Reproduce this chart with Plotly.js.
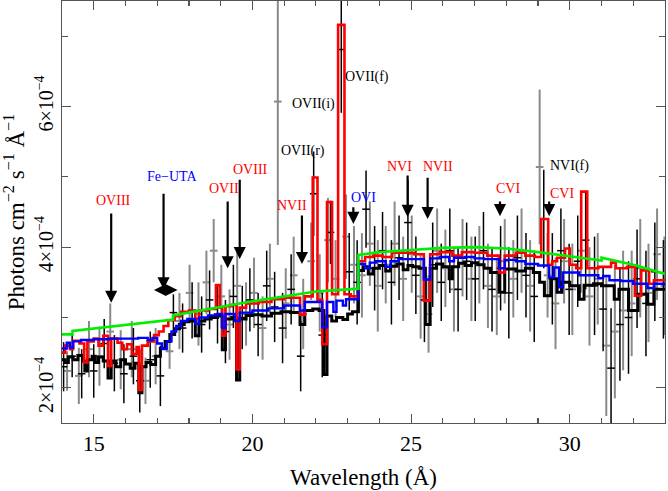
<!DOCTYPE html>
<html>
<head>
<meta charset="utf-8">
<script src="https://cdn.plot.ly/plotly-3.0.1.min.js"></script>
<style>html,body{margin:0;padding:0;background:#fff;}#chart{width:668px;height:491px;}</style>
</head>
<body>
<div id="chart"></div>
<script>
// ---- data (flux in units of 1e-4 photons cm^-2 s^-1 A^-1) ----
const xTickVals = [15, 20, 25, 30];
const yTickVals = [2, 4, 6];
const yTickText = ['2×10<sup>−4</sup>', '4×10<sup>−4</sup>', '6×10<sup>−4</sup>'];
const yMinorVals = [3, 5, 7];

// grey data set
const greyX = [14.16,14.53,14.85,15.18,15.52,15.85,16.20,16.63,16.95,17.39,17.70,18.02,18.30,18.55,18.78,19.02,19.28,19.52,19.80,20.05,20.32,20.55,20.80,21.05,21.30,21.60,21.85,22.12,22.38,22.62,22.95,23.20,23.45,23.70,23.95,24.20,24.48,24.75,25.02,25.30,25.55,25.82,26.08,26.35,26.62,26.90,27.15,27.42,27.70,27.95,28.22,28.48,28.75,29.05,29.30,29.55,29.82,30.08,30.35,30.62,30.88,31.15,31.42,31.68,31.95,32.22,32.48,32.75,32.98];
const greyY = [2.24,2.17,2.55,2.45,2.80,2.40,2.55,2.10,2.45,2.52,2.95,3.35,3.05,3.50,3.95,3.30,2.90,3.45,3.05,3.35,2.85,3.55,6.07,3.20,3.60,3.05,3.80,3.35,4.10,3.55,4.15,3.75,3.60,4.05,3.45,3.75,4.05,3.55,3.90,3.30,3.05,3.95,3.70,3.40,3.85,3.55,3.75,3.45,3.30,3.80,3.55,3.95,3.45,5.14,3.60,3.20,3.80,3.40,3.95,3.30,3.55,2.60,2.80,3.10,3.20,3.70,3.35,3.90,3.45];
const greyErr = [0.28,0.40,0.40,0.42,0.40,0.42,0.40,0.33,0.40,0.25,0.40,0.40,0.45,0.45,0.45,0.45,0.50,0.50,0.45,0.50,0.45,0.50,2.04,0.50,0.55,0.50,0.55,0.55,0.60,0.55,0.60,0.55,0.60,0.60,0.65,0.55,0.60,0.60,0.55,0.60,0.55,0.60,0.55,0.60,0.55,0.60,0.55,0.60,0.55,0.60,0.55,0.60,0.65,1.10,0.60,0.65,0.60,0.65,0.60,0.70,0.65,1.00,0.95,0.85,0.75,0.70,0.70,0.65,0.70];

// black data set
const blackX = [14.05,14.32,14.62,15.00,15.33,15.65,15.95,16.25,16.45,16.78,17.10,17.51,17.80,18.10,18.40,18.65,18.90,19.15,19.40,19.68,19.92,20.18,20.45,20.70,20.95,21.22,21.52,21.93,22.20,22.46,22.80,23.05,23.30,23.58,23.85,24.10,24.38,24.62,24.90,25.15,25.42,25.68,25.95,26.22,26.48,26.75,27.02,27.28,27.55,27.82,28.08,28.35,28.62,28.88,29.18,29.45,29.72,29.98,30.25,30.50,30.78,31.05,31.30,31.58,31.85,32.12,32.40,32.68,32.95];
const blackY = [2.30,2.45,2.20,2.24,2.63,2.35,2.20,2.45,2.10,2.40,2.17,3.07,2.85,3.10,2.90,3.25,3.05,2.80,3.30,3.00,3.25,2.90,3.45,3.15,2.85,3.40,2.45,4.76,2.75,4.21,6.81,3.65,3.50,4.54,3.70,3.95,3.50,3.85,4.35,3.60,3.25,3.75,3.50,3.95,3.40,3.80,3.55,3.95,3.40,3.70,3.35,3.85,3.60,3.30,4.40,3.55,3.95,3.40,3.80,4.10,3.45,3.12,2.28,2.90,3.00,3.55,3.20,3.65,3.40];
const blackErr = [0.35,0.30,0.35,0.38,0.35,0.40,0.42,0.40,0.45,0.40,0.43,0.26,0.35,0.40,0.40,0.42,0.42,0.45,0.45,0.45,0.45,0.45,0.50,0.50,0.50,0.50,0.50,0.60,0.60,0.45,0.90,0.55,0.60,0.55,0.60,0.55,0.60,0.60,0.60,0.55,0.60,0.60,0.55,0.60,0.60,0.55,0.60,0.55,0.60,0.60,0.65,0.60,0.60,0.65,0.70,0.65,0.60,0.65,0.65,0.70,0.70,0.60,0.85,0.80,0.80,0.70,0.75,0.70,0.70];

// absorbed model (black step line)
const blackModelX = [14.00,14.10,14.20,14.35,14.50,14.65,14.72,14.80,14.95,15.05,15.15,15.30,15.45,15.55,15.70,15.85,16.00,16.15,16.30,16.42,16.52,16.65,16.80,16.95,17.10,17.25,17.40,17.55,17.70,17.85,18.00,18.20,18.32,18.50,18.70,18.90,19.05,19.15,19.35,19.50,19.60,19.80,20.00,20.30,20.60,20.90,21.20,21.50,21.65,21.90,22.10,22.25,22.35,22.50,22.65,22.85,23.00,23.15,23.34,23.50,23.65,23.80,24.00,24.20,24.35,24.55,24.75,24.90,25.05,25.25,25.45,25.60,25.80,26.00,26.20,26.30,26.50,26.70,26.90,27.10,27.30,27.50,27.77,27.95,28.30,28.60,28.85,29.05,29.20,29.40,29.60,29.75,30.00,30.30,30.45,30.75,31.00,31.40,31.55,31.85,32.15,32.45,32.65,33.00];
const blackModelY = [2.40,2.36,2.44,2.40,2.46,2.38,2.24,2.40,2.45,2.36,2.44,2.38,2.14,2.38,2.30,2.40,2.34,2.28,2.35,1.93,2.30,2.36,2.33,2.45,2.56,2.66,2.76,2.84,2.90,2.94,2.95,2.74,2.95,2.98,3.00,3.02,2.54,2.98,3.00,2.11,2.98,3.03,3.04,3.02,3.06,3.08,3.07,2.90,3.10,3.12,3.10,2.19,3.02,2.95,3.00,2.97,3.05,3.08,3.67,3.72,3.62,3.70,3.74,3.66,3.73,3.76,3.68,3.74,3.72,3.70,2.90,3.70,3.76,3.72,3.55,3.72,3.77,3.74,3.78,3.75,3.70,3.64,3.36,3.69,3.66,3.70,3.64,3.50,3.31,3.55,3.36,3.50,3.45,3.26,3.46,3.48,3.45,3.26,3.40,3.10,3.33,3.19,3.40,3.40];

// emission + absorption model (red step line)
const redModelX = [14.00,14.10,14.25,14.35,14.55,14.70,14.80,15.00,15.15,15.30,15.45,15.55,15.75,15.90,16.05,16.20,16.35,16.42,16.52,16.70,16.90,17.05,17.20,17.35,17.55,17.75,18.00,18.20,18.32,18.60,18.85,18.97,19.05,19.15,19.35,19.50,19.60,19.80,20.20,20.60,21.00,21.50,21.65,21.90,22.05,22.20,22.35,22.51,22.70,22.90,23.10,23.34,23.55,23.80,24.10,24.40,24.80,25.10,25.40,25.60,25.90,26.30,26.60,27.00,27.40,27.77,27.95,28.30,28.60,28.90,29.10,29.32,29.45,29.60,29.85,30.00,30.20,30.36,30.55,30.90,31.30,31.45,31.80,32.05,32.25,32.50,32.65,33.00];
const redModelY = [2.50,2.60,2.55,2.67,2.63,2.36,2.66,2.70,2.60,2.74,2.31,2.70,2.64,2.55,2.62,2.48,2.58,1.97,2.60,2.66,2.75,2.80,2.88,2.96,3.02,3.08,3.10,2.98,3.10,3.12,3.46,3.14,2.74,3.16,3.18,2.26,3.14,3.20,3.22,3.26,3.28,3.04,3.30,4.99,3.25,2.62,4.64,3.33,7.16,3.33,3.30,3.80,3.86,3.88,3.86,3.92,3.92,3.90,3.24,3.90,3.93,3.88,3.93,3.92,3.88,3.64,3.88,3.92,3.88,3.86,4.40,3.75,3.80,3.85,3.98,3.75,3.70,4.79,3.70,3.72,3.78,3.70,3.72,3.31,3.67,3.48,3.53,3.53];

// blue step line
const blueModelX = [14.00,14.15,14.25,14.35,14.60,15.00,15.50,16.00,16.40,16.70,16.85,17.00,17.15,17.30,17.45,17.60,17.75,17.95,18.20,18.32,18.60,18.90,19.05,19.15,19.45,19.60,20.00,20.50,21.00,21.50,21.65,22.20,22.35,22.55,22.65,22.85,22.95,23.34,23.55,23.70,23.90,24.20,24.35,24.60,25.00,25.40,25.60,25.90,26.20,26.35,26.70,27.00,27.30,27.77,27.95,28.30,28.60,29.00,29.35,29.50,29.66,29.78,30.30,30.90,31.05,31.25,31.60,32.00,32.45,32.65,33.00];
const blueModelY = [2.56,2.64,2.57,2.66,2.68,2.69,2.70,2.70,2.71,2.68,2.71,2.63,2.55,2.66,2.80,2.88,2.95,2.98,2.91,3.00,3.03,3.05,2.85,3.05,2.95,3.07,3.10,3.13,3.17,3.10,3.22,2.86,3.22,3.08,3.24,3.17,3.26,3.76,3.70,3.78,3.80,3.72,3.80,3.83,3.83,3.54,3.84,3.86,3.80,3.85,3.86,3.84,3.83,3.70,3.82,3.80,3.76,3.74,3.57,3.71,3.43,3.64,3.60,3.56,3.59,3.53,3.52,3.48,3.42,3.48,3.45];

// continuum (green)
const contX = [14.00,14.33,14.33,17.50,17.50,20.00,22.00,23.34,23.34,24.00,25.00,26.00,27.00,28.00,29.00,30.00,31.00,31.00,32.00,33.00];
const contY = [2.76,2.76,2.81,2.97,3.03,3.23,3.37,3.41,3.89,3.93,3.96,3.99,4.00,3.98,3.93,3.87,3.81,3.85,3.75,3.62];

// line identifications
const lineLabels = ['OVIII','Fe−UTA','OVII','OVIII','NVII','OVII(r)','OVII(i)','OVII(f)','OVI','NVI','NVII','CVI','NVI(f)','CVI'];
const lineLabelX = [15.61,17.48,19.09,19.95,21.25,21.59,21.94,23.62,23.49,24.63,25.84,28.05,29.98,29.76];
const lineLabelY = [4.67,5.00,4.84,5.10,4.59,5.37,6.04,6.42,4.70,5.14,5.14,4.83,5.15,4.76];
const lineLabelColor = ['red','blue','red','red','red','black','black','black','blue','red','red','red','black','red'];

const arrowX = [15.55,17.20,19.22,19.60,21.56,23.18,24.89,25.52,27.80,29.35];
const arrowTop = [4.50,4.78,4.67,4.98,4.47,4.59,5.04,5.01,4.67,4.67];
const arrowTip = [3.21,3.40,3.70,3.83,3.76,4.33,4.43,4.40,4.44,4.44];
const uta = {x0: 16.85, x1: 17.64, y: 3.39};

// ---- plot ----
const FONT = 'Liberation Serif';
const axisGrey = '#555';

function errTrace(x, y, e, color, thick) {
  return {
    type: 'scatter', mode: 'markers', x: x, y: y,
    marker: {size: 1, color: color, opacity: 0},
    error_y: {type: 'data', array: e, visible: true, color: color, thickness: thick, width: 0},
    error_x: {type: 'constant', value: 0.12, visible: true, color: color, thickness: thick, width: 0},
    hoverinfo: 'skip', showlegend: false
  };
}
function stepTrace(x, y, color, w) {
  return {type: 'scatter', mode: 'lines', x: x, y: y, line: {shape: 'hv', color: color, width: w}, hoverinfo: 'skip', showlegend: false};
}

const traces = [
  errTrace(greyX, greyY, greyErr, '#8a8a8a', 2),
  errTrace(blackX, blackY, blackErr, '#000000', 1.5),
  stepTrace(blackModelX, blackModelY, '#000000', 3),
  stepTrace(redModelX, redModelY, '#ff0000', 2.6),
  stepTrace(blueModelX, blueModelY, '#0000ff', 2.4),
  {type: 'scatter', mode: 'lines', x: contX, y: contY, line: {color: '#00ee00', width: 2.6}, hoverinfo: 'skip', showlegend: false}
];

const annotations = [];
for (let i = 0; i < lineLabels.length; i++) {
  annotations.push({x: lineLabelX[i], y: lineLabelY[i], xref: 'x', yref: 'y', text: lineLabels[i], showarrow: false,
    font: {family: FONT, size: 14, color: lineLabelColor[i]}, xanchor: 'center', yanchor: 'middle'});
}
for (let i = 0; i < arrowX.length; i++) {
  annotations.push({x: arrowX[i], y: arrowTip[i], ax: arrowX[i], ay: arrowTop[i], xref: 'x', yref: 'y', axref: 'x', ayref: 'y',
    text: '', showarrow: true, arrowhead: 2, arrowsize: 1.1, arrowwidth: 2.2, arrowcolor: '#000', standoff: 0, startstandoff: 0,
    font: {size: 1}});
}
annotations.push({x: uta.x1, y: uta.y, ax: uta.x0, ay: uta.y, xref: 'x', yref: 'y', axref: 'x', ayref: 'y',
  text: '', showarrow: true, arrowhead: 2, arrowside: 'end+start', arrowsize: 1.2, arrowwidth: 2, arrowcolor: '#000',
  standoff: 0, startstandoff: 0, font: {size: 1}});

const layout = {
  width: 668, height: 491,
  margin: {l: 62, r: 3, t: 1, b: 68},
  paper_bgcolor: '#fff', plot_bgcolor: '#fff',
  font: {family: FONT, color: '#000'},
  showlegend: false,
  xaxis: {
    range: [14, 33], tickmode: 'array', tickvals: xTickVals,
    ticks: 'inside', ticklen: 9, tickwidth: 1.2, tickcolor: axisGrey,
    showline: true, linecolor: axisGrey, linewidth: 1.2, mirror: 'allticks',
    showgrid: false, zeroline: false,
    tickfont: {family: FONT, size: 22, color: '#000'},
    minor: {tickmode: 'linear', tick0: 14, dtick: 1, ticks: 'inside', ticklen: 5, tickwidth: 1.2, tickcolor: axisGrey, showgrid: false},
    title: {text: 'Wavelength (Å)', font: {family: FONT, size: 23, color: '#000'}, standoff: 14}
  },
  yaxis: {
    range: [1.5, 7.5], tickmode: 'array', tickvals: yTickVals, ticktext: yTickText, tickangle: -90,
    ticks: 'inside', ticklen: 9, tickwidth: 1.2, tickcolor: axisGrey,
    showline: true, linecolor: axisGrey, linewidth: 1.2, mirror: 'allticks',
    showgrid: false, zeroline: false,
    tickfont: {family: FONT, size: 20, color: '#000'},
    minor: {tickmode: 'array', tickvals: yMinorVals, ticks: 'inside', ticklen: 6, tickwidth: 1.2, tickcolor: axisGrey, showgrid: false},
    title: {text: 'Photons cm<sup>−2</sup> s<sup>−1</sup> Å<sup>−1</sup>', font: {family: FONT, size: 23, color: '#000'}, standoff: 8}
  },
  annotations: annotations
};

Plotly.newPlot('chart', traces, layout, {staticPlot: true, displayModeBar: false});
</script>
</body>
</html>
